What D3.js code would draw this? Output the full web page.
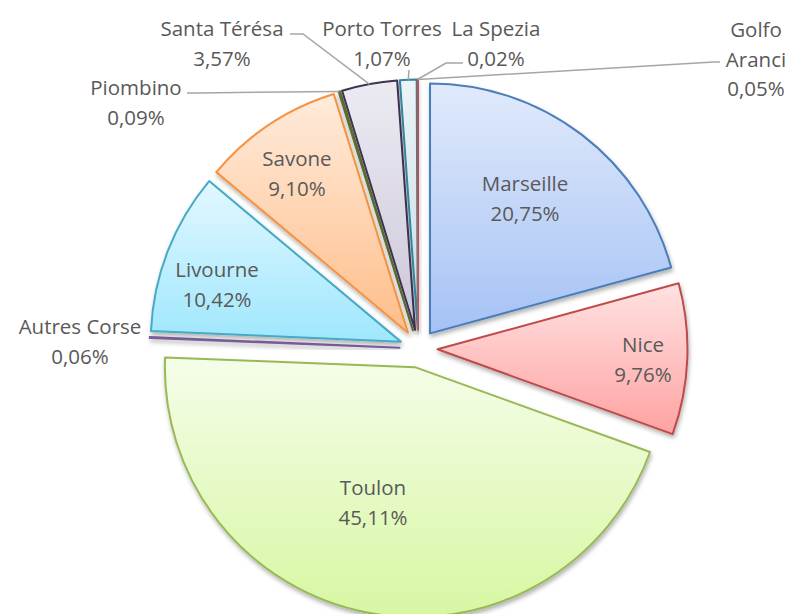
<!DOCTYPE html>
<html>
<head>
<meta charset="utf-8">
<script src="https://cdn.jsdelivr.net/npm/d3@7"></script>
<style>
  body { margin: 0; background: #fff; }
  text { font-family: "Open Sans", Lato, sans-serif; font-size: 20.5px; fill: #595959; }
</style>
</head>
<body>
<div id="chart"></div>
<script>
// ports and their share of traffic (clockwise from 12 o'clock)
var ports = ["Marseille", "Nice", "Toulon", "Autres Corse", "Livourne", "Savone",
             "Piombino", "Santa Térésa", "Porto Torres", "La Spezia", "Golfo Aranci"];
var shares = [20.75, 9.76, 45.11, 0.06, 10.42, 9.10, 0.09, 3.57, 1.07, 0.02, 0.05];
var labelLines = [["Marseille"], ["Nice"], ["Toulon"], ["Autres Corse"], ["Livourne"], ["Savone"],
                  ["Piombino"], ["Santa Térésa"], ["Porto Torres"], ["La Spezia"], ["Golfo", "Aranci"]];

var width = 788, height = 614;
var cx = 418.5, cy = 348.5, radius = 250, explode = 19;

// stroke, gradient top, gradient bottom
var styles = [
    ["#4a7ebb", "#e1eafb", "#a5c2f5"],
    ["#be4b48", "#ffe2e2", "#ffa2a2"],
    ["#98b954", "#f5fde9", "#d7f7a2"],
    ["#7d60a0", "#e6e0ef", "#c9bddc"],
    ["#46aac5", "#e2f8ff", "#9fe7fd"],
    ["#f69240", "#ffebdb", "#ffbe8a"],
    ["#5f7530", "#dfe8c8", "#b7c98e"],
    ["#3f3151", "#ecebf2", "#ccc7d9"],
    ["#31859c", "#ebf3f6", "#c6dde6"],
    ["#d99694", "#f5dcdb", "#e6b9b8"],
    ["#c0504d", "#f2c4c3", "#d99694"]
];

// label centres (first line) and leader line anchors
var labelPos = {
    "Marseille": [525, 183], "Nice": [643, 344], "Toulon": [373, 487],
    "Autres Corse": [80, 326], "Livourne": [217, 269], "Savone": [297, 158],
    "Piombino": [136, 87], "Santa Térésa": [222, 28], "Porto Torres": [382, 28],
    "La Spezia": [496, 28], "Golfo Aranci": [756, 29]
};
var leaders = {
    "Piombino": [[187, 93], [198, 93]],
    "Santa Térésa": [[290, 34], [303, 34]],
    "Porto Torres": [[409, 70]],
    "La Spezia": [[463, 63], [446, 63]],
    "Golfo Aranci": [[720, 62], [714, 62]]
};

var svg = d3.select("#chart").append("svg")
    .attr("width", width)
    .attr("height", height);

var defs = svg.append("defs");
var shadow = defs.append("filter").attr("id", "shadow")
    .attr("x", "-20%").attr("y", "-20%").attr("width", "140%").attr("height", "140%");
shadow.append("feDropShadow")
    .attr("dx", 1).attr("dy", 3).attr("stdDeviation", 2.2)
    .attr("flood-color", "#000").attr("flood-opacity", 0.3);

styles.forEach(function (s, i) {
    var g = defs.append("linearGradient").attr("id", "grad" + i)
        .attr("x1", 0).attr("y1", 0).attr("x2", 0).attr("y2", 1);
    g.append("stop").attr("offset", "0%").attr("stop-color", s[1]);
    g.append("stop").attr("offset", "100%").attr("stop-color", s[2]);
});

var pie = d3.pie().sort(null).value(function (d) { return d; });
var arcs = pie(shares);
var arc = d3.arc().innerRadius(0).outerRadius(radius);

function dir(a) {
    var mid = (a.startAngle + a.endAngle) / 2;
    return [Math.sin(mid), -Math.cos(mid)];
}

var root = svg.append("g").attr("transform", "translate(" + cx + "," + cy + ")");

root.selectAll("path.slice")
    .data(arcs)
    .enter().append("path")
    .attr("class", "slice")
    .attr("d", arc)
    .attr("transform", function (d) {
        var v = dir(d);
        return "translate(" + (v[0] * explode) + "," + (v[1] * explode) + ")";
    })
    .attr("fill", function (d, i) { return "url(#grad" + i + ")"; })
    .attr("stroke", function (d, i) { return styles[i][0]; })
    .attr("stroke-width", 2)
    .attr("stroke-linejoin", "round")
    .attr("filter", "url(#shadow)");

// leader lines from label to slice edge
var line = d3.line();
arcs.forEach(function (a, i) {
    var pts = leaders[ports[i]];
    if (!pts) return;
    var v = dir(a);
    var edge = [cx + v[0] * (radius + explode), cy + v[1] * (radius + explode)];
    svg.append("path")
        .attr("d", line(pts.concat([edge])))
        .attr("fill", "none")
        .attr("stroke", "#a6a6a6")
        .attr("stroke-width", 1.5);
});

// labels
ports.forEach(function (p, i) {
    var pos = labelPos[p];
    var lines = labelLines[i].concat([shares[i].toFixed(2).replace(".", ",") + "%"]);
    var t = svg.append("text")
        .attr("text-anchor", "middle")
        .attr("x", pos[0])
        .attr("y", pos[1])
        .attr("dominant-baseline", "central");
    lines.forEach(function (s, k) {
        t.append("tspan")
            .attr("x", pos[0])
            .attr("dy", k === 0 ? 0 : 29.5)
            .text(s);
    });
});
</script>
</body>
</html>
